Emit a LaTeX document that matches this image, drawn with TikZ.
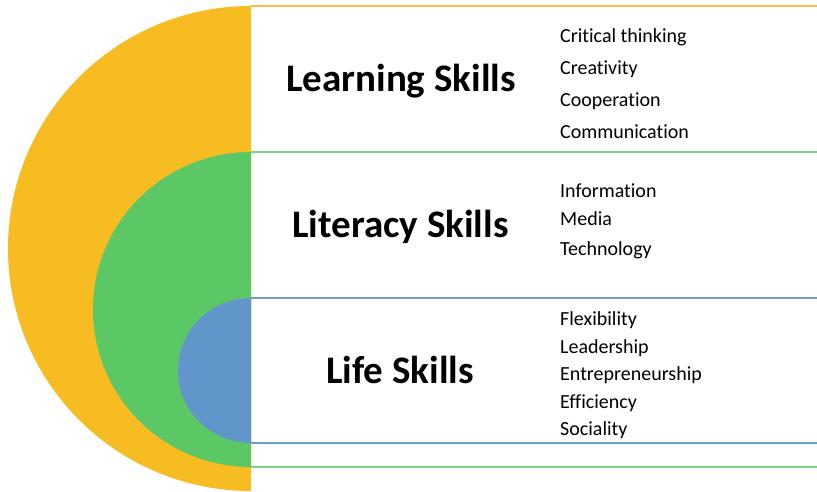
\documentclass[tikz,border=0pt]{standalone}
\usepackage{fontspec}
\setmainfont{Carlito}[Ligatures={NoCommon}]
\definecolor{cYel}{HTML}{F7BC22}
\definecolor{cGrn}{HTML}{5BC865}
\definecolor{cBlu}{HTML}{6196CB}
\definecolor{cYelL}{HTML}{F6C246}
\definecolor{cGrnL}{HTML}{7FD088}
\definecolor{cBluL}{HTML}{6E9DD0}
\begin{document}
\begin{tikzpicture}[x=1pt,y=-1pt,
  title/.style={font=\fontsize{39}{44}\selectfont\bfseries, inner sep=0pt, text height=27pt, text depth=8pt},
  item/.style={font=\fontsize{20}{24}\selectfont, anchor=west, inner sep=0pt, text height=14pt, text depth=4pt},
  band/.style={line width=2pt}]
\useasboundingbox (0,0) rectangle (817,491);
\begin{scope}
  \clip (0,0) rectangle (251,491);
  \fill[cYel] (251,248.5) ellipse[x radius=243, y radius=242.5];
  \fill[cGrn] (251,309.5) ellipse[x radius=158, y radius=157.5];
  \fill[cBlu] (251,370.5) ellipse[x radius=73, y radius=72.5];
\end{scope}
\coordinate (yl) at (251,6);  \coordinate (yr) at (817,6);
\coordinate (g1l) at (251,152); \coordinate (g1r) at (817,152);
\coordinate (b1l) at (251,298); \coordinate (b1r) at (817,298);
\coordinate (b2l) at (251,443); \coordinate (b2r) at (817,443);
\coordinate (g2l) at (251,467); \coordinate (g2r) at (817,467);
\draw[band, cYelL] (yl) -- (yr);
\draw[band, cGrnL] (g1l) -- (g1r);
\draw[band, cBluL] (b1l) -- (b1r);
\draw[band, cBluL] (b2l) -- (b2r);
\draw[band, cGrnL] (g2l) -- (g2r);
\node[title] (t1) at (401,82) {Learning Skills};
\node[title] (t2) at (400.5,228) {Literacy Skills};
\node[title] (t3) at (400,374) {Life Skills};
\node[item] (a1) at (560,37) {Critical thinking};
\node[item] (a2) at (560,69) {Creativity};
\node[item] (a3) at (560,101) {Cooperation};
\node[item] (a4) at (560,133) {Communication};
\node[item] (b1) at (560,192) {Information};
\node[item] (b2) at (560,220) {Media};
\node[item] (b3) at (560,250) {Technology};
\node[item] (c1) at (560,320) {Flexibility};
\node[item] (c2) at (560,348) {Leadership};
\node[item] (c3) at (560,375) {Entrepreneurship};
\node[item] (c4) at (560,403) {Efficiency};
\node[item] (c5) at (560,430) {Sociality};
\end{tikzpicture}
\end{document}
